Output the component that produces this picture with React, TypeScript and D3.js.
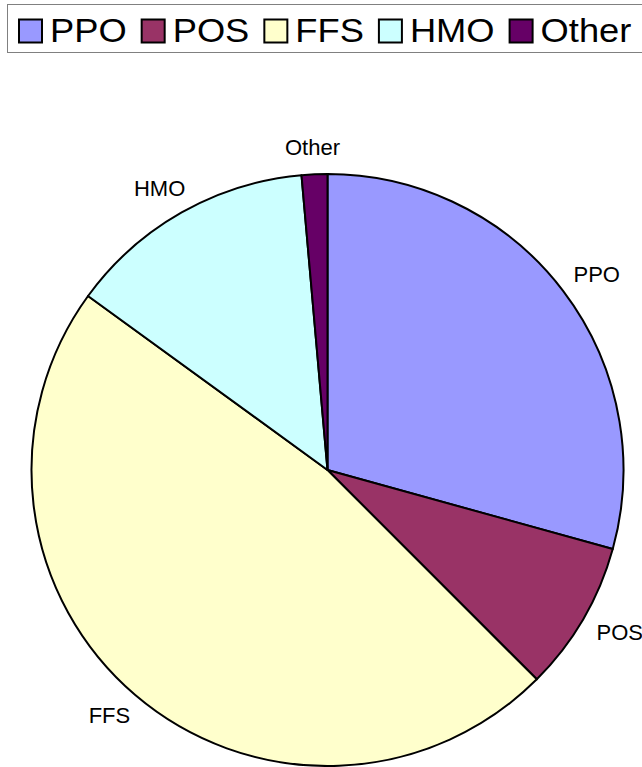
import React, { useEffect, useRef } from "react";
import * as d3 from "d3";

const categories = ["PPO", "POS", "FFS", "HMO", "Other"];
const shares = [29.3, 8.2, 47.5, 13.6, 1.4];
const colors = ["#9999FF", "#993366", "#FFFFCC", "#CCFFFF", "#660066"];

const W = 642;
const H = 767;

const App = () => {
  const svgRef = useRef<SVGSVGElement>(null);

  useEffect(() => {
    const svg = d3.select(svgRef.current);
    svg.selectAll("*").remove();

    const font = "'Liberation Sans', Arial, sans-serif";

    // Pie geometry
    const cx = 327.5;
    const cy = 470;
    const r = 296;

    const pie = d3
      .pie<number>()
      .sort(null)
      .value((d) => d);
    const arcs = pie(shares);
    const arc = d3.arc<d3.PieArcDatum<number>>().innerRadius(0).outerRadius(r);
    const labelArc = d3
      .arc<d3.PieArcDatum<number>>()
      .innerRadius(r + 9)
      .outerRadius(r + 9);

    const g = svg.append("g").attr("transform", `translate(${cx},${cy})`);

    g.selectAll("path")
      .data(arcs)
      .join("path")
      .attr("d", arc)
      .attr("fill", (_, i) => colors[i])
      .attr("stroke", "#000")
      .attr("stroke-width", 2)
      .attr("stroke-linejoin", "round");

    // Labels outside the pie, pushed out by half their box (plus padding)
    const labels = g
      .selectAll("text")
      .data(arcs)
      .join("text")
      .attr("text-anchor", "middle")
      .attr("dominant-baseline", "central")
      .style("font-family", font)
      .style("font-size", "22px")
      .attr("fill", "#000")
      .text((_, i) => categories[i]);

    labels.each(function (d) {
      const el = this as SVGTextElement;
      const halfW = el.getComputedTextLength() / 2 + 10;
      const halfH = 18;
      const mid = (d.startAngle + d.endAngle) / 2;
      const [x, y] = labelArc.centroid(d);
      d3.select(el)
        .attr("x", x + Math.sin(mid) * halfW)
        .attr("y", y - Math.cos(mid) * halfH);
    });

    // Legend
    const legend = svg.append("g");
    legend
      .append("rect")
      .attr("x", 7.5)
      .attr("y", 4.5)
      .attr("width", 700)
      .attr("height", 48)
      .attr("fill", "#fff")
      .attr("stroke", "#808080")
      .attr("stroke-width", 1);

    const sw = 23;
    let x = 19;
    categories.forEach((c, i) => {
      legend
        .append("rect")
        .attr("x", x)
        .attr("y", 19.5)
        .attr("width", sw)
        .attr("height", sw)
        .attr("fill", colors[i])
        .attr("stroke", "#000")
        .attr("stroke-width", 2);
      const t = legend
        .append("text")
        .attr("x", x + sw + 8)
        .attr("y", 42)
        .style("font-family", font)
        .style("font-size", "33px")
        .attr("fill", "#000")
        .text(c);
      const node = t.node() as SVGTextElement;
      const w = node.getComputedTextLength() * 1.1;
      t.attr("textLength", w).attr("lengthAdjust", "spacingAndGlyphs");
      x += sw + 8 + w + 15;
    });
  }, []);

  return (
    <svg
      ref={svgRef}
      width={W}
      height={H}
      style={{ position: "absolute", left: 0, top: 0, background: "#fff" }}
    />
  );
};

export default App;
